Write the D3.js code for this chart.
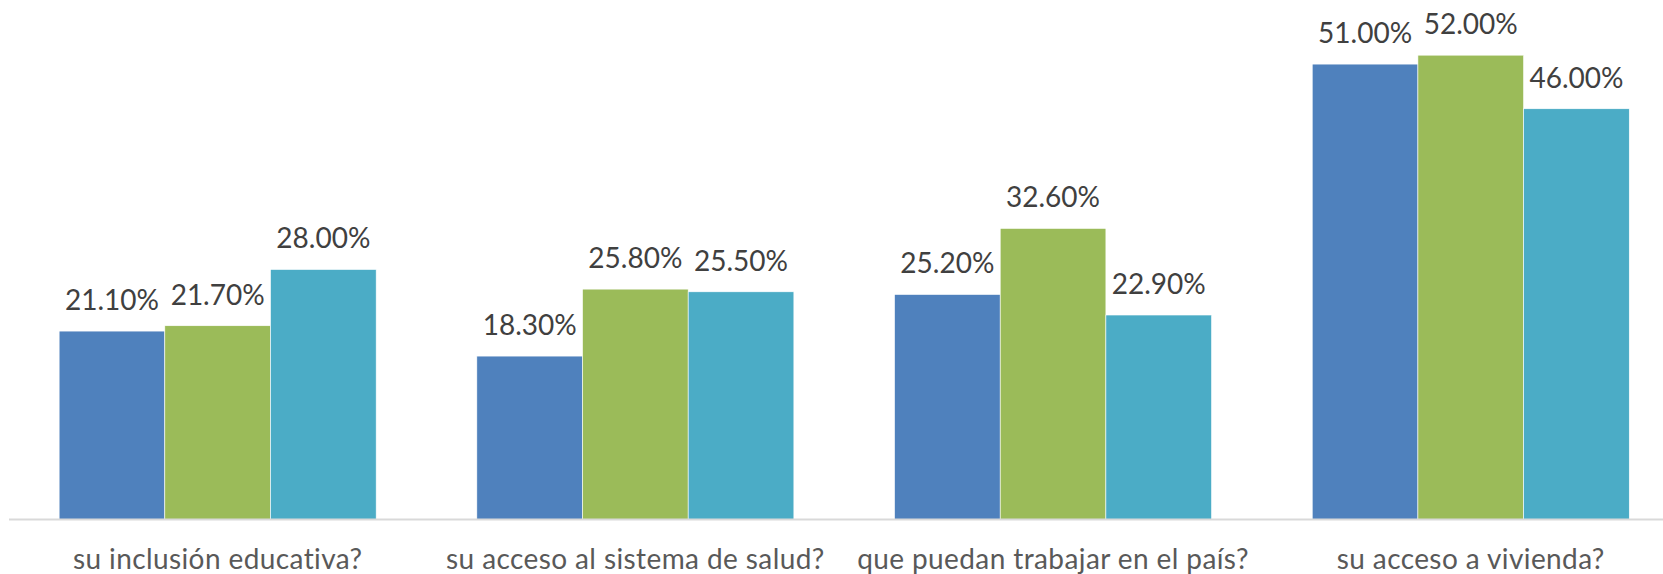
<!DOCTYPE html>
<html>
<head>
<meta charset="utf-8">
<script src="https://cdn.jsdelivr.net/npm/d3@7"></script>
<style>
  html, body { margin: 0; padding: 0; background: #fff; }
  svg text { font-family: Lato, "Open Sans", sans-serif; }
</style>
</head>
<body>
<div id="chart"></div>
<script>
// chart values
const categories = ["su inclusión educativa?", "su acceso al sistema de salud?", "que puedan trabajar en el país?", "su acceso a vivienda?"];
const seriesNames = ["s1", "s2", "s3"];
const series1 = [21.1, 18.3, 25.2, 51.0];
const series2 = [21.7, 25.8, 32.6, 52.0];
const series3 = [28.0, 25.5, 22.9, 46.0];
const colors = ["#4f81bd", "#9bbb59", "#4bacc6"];

const width = 1663;
const height = 574;

const svg = d3.select("#chart")
    .append("svg")
    .attr("width", width)
    .attr("height", height);

const x = d3.scaleBand()
    .domain(categories)
    .range([8.8, 1679.6])
    .paddingInner(0.241)
    .paddingOuter(0.1205);

const xInner = d3.scaleBand()
    .domain(seriesNames)
    .range([0, x.bandwidth()]);

const y = d3.scaleLinear()
    .domain([0, 58])
    .range([519.5, 1.6]);

const values = [series1, series2, series3];
const rows = [];
categories.forEach((c, i) => {
    seriesNames.forEach((s, j) => {
        rows.push({ cat: c, series: s, value: values[j][i], color: colors[j] });
    });
});

// bars
svg.selectAll(".bar")
    .data(rows)
    .join("rect")
    .attr("class", "bar")
    .attr("x", d => x(d.cat) + xInner(d.series))
    .attr("y", d => y(d.value))
    .attr("width", xInner.bandwidth())
    .attr("height", d => y(0) - y(d.value))
    .attr("fill", d => d.color)
    .attr("stroke", "#ffffff")
    .attr("stroke-width", 0.6);

// value labels
svg.selectAll(".val")
    .data(rows)
    .join("text")
    .attr("class", "val")
    .attr("x", d => x(d.cat) + xInner(d.series) + xInner.bandwidth() / 2)
    .attr("y", d => y(d.value) - 21)
    .attr("text-anchor", "middle")
    .attr("font-size", 28)
    .attr("fill", "#404040")
    .text(d => d.value.toFixed(2) + "%");

// axis
const xAxis = svg.append("g")
    .attr("transform", `translate(0,${y(0)})`)
    .call(d3.axisBottom(x).tickSize(0).tickPadding(30));
xAxis.select(".domain")
    .attr("d", `M9,0H${width}`)
    .attr("stroke", "#d9d9d9")
    .attr("stroke-width", 2);
xAxis.selectAll("text")
    .attr("font-size", 28)
    .attr("fill", "#595959")
    .attr("letter-spacing", 0.4)
    .attr("font-family", "Lato, sans-serif");
</script>
</body>
</html>
